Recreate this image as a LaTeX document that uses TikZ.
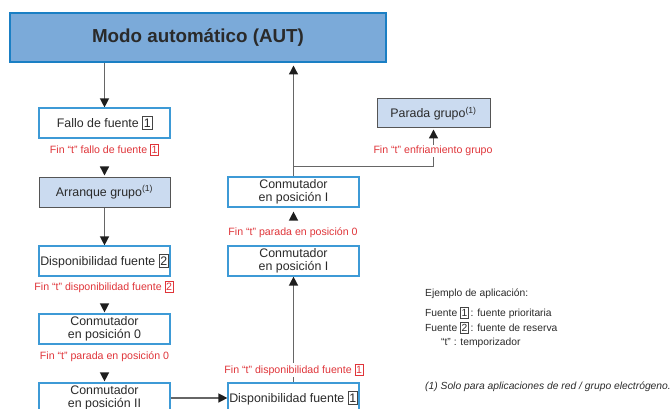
\documentclass[tikz,border=0pt]{standalone}
\usepackage{fontspec}
\setmainfont{Liberation Sans}
\usetikzlibrary{arrows.meta,backgrounds,calc}
\definecolor{lblue}{HTML}{3D9AD6}
\definecolor{tfill}{HTML}{7BAAD9}
\definecolor{tborder}{HTML}{1A7FC4}
\definecolor{gfill}{HTML}{CBDBF0}
\definecolor{gborder}{HTML}{555555}
\definecolor{redl}{HTML}{E0353A}
\definecolor{linec}{HTML}{666666}
\definecolor{tipc}{HTML}{1E1E1E}
\definecolor{txt}{HTML}{2A2A2A}
\definecolor{numframe}{HTML}{444444}
\newcommand{\bnum}[2][numframe]{{\setlength{\fboxsep}{0.9pt}\setlength{\fboxrule}{0.6pt}\fcolorbox{#1}{white}{\rule[-0.1em]{0pt}{0.86em}#2}}}
\begin{document}
\begin{tikzpicture}[x=1pt,y=-1pt,
  box/.style={draw=lblue, line width=1.2pt, fill=white, minimum width=131pt, minimum height=30pt, inner sep=0pt, align=center, text=txt, font=\fontsize{12.4}{12.8}\selectfont},
  gbox/.style={box, draw=gborder, line width=1pt, fill=gfill},
  lbl/.style={text=redl, font=\fontsize{10.6}{12}\selectfont, fill=white, inner sep=1pt},
  conn/.style={draw=linec, line width=1.4pt, -{Triangle[length=9pt,width=9pt,color=tipc]}},
  tiponly/.style={draw=white, line width=1.4pt, -{Triangle[length=9pt,width=9pt,color=tipc]}},
  note/.style={text=txt, font=\fontsize{10.3}{12}\selectfont, anchor=west, inner sep=0pt}]
\useasboundingbox (0,0) rectangle (672,409);
\node[draw=tborder, line width=2pt, fill=tfill, minimum width=376pt, minimum height=49pt, inner sep=0pt, font=\bfseries\fontsize{18.8}{22}\selectfont, text=txt] (aut) at (198,38) {Modo automático (AUT)};
% left column
\node[box] (fallo) at (104.5,123) {Fallo de fuente \bnum{1}};
\node[gbox] (arr) at (104.5,192) {Arranque grupo\textsuperscript{(1)}};
\node[box] (d2) at (104.5,261) {Disponibilidad fuente \bnum{2}};
\node[box] (c0) at (104.5,329) {Conmutador\\en posición 0};
\node[box] (c2) at (104.5,398) {Conmutador\\en posición II};
% right column
\node[box] (d1) at (293.5,398) {Disponibilidad fuente \bnum{1}};
\node[box] (cib) at (293.5,261) {Conmutador\\en posición I};
\node[box] (cia) at (293.5,192) {Conmutador\\en posición I};
\node[gbox, minimum width=113pt, minimum height=29pt] (parada) at (433.5,113.5) {Parada grupo\textsuperscript{(1)}};
% labels
\node[lbl] (l1) at (104.5,150) {Fin “t” fallo de fuente \bnum[redl]{1}};
\node[lbl] (l2) at (104,287) {Fin “t” disponibilidad fuente \bnum[redl]{2}};
\node[lbl] (l3) at (104.5,357) {Fin “t” parada en posición 0};
\node[lbl] (l4) at (294,370) {Fin “t” disponibilidad fuente \bnum[redl]{1}};
\node[lbl] (l5) at (293,233) {Fin “t” parada en posición 0};
\node[lbl] (l6) at (433,151) {Fin “t” enfriamiento grupo};
% connectors
\begin{scope}[on background layer]
\draw[conn] (aut.south -| fallo.north) -- (fallo.north);
\draw[tiponly, shorten >=1pt] (fallo) -- (arr);
\draw[conn] (arr) -- (d2);
\draw[tiponly, shorten >=1pt] (d2) -- (c0);
\draw[tiponly, shorten >=1pt] (c0) -- (c2);
\draw[conn] (c2) -- (d1);
\draw[conn] (d1) -- (cib);
\draw[tiponly, shorten >=4pt] (cib) -- (cia);
\draw[conn, shorten >=2pt] (cia.north) -- (cia.north |- aut.south);
\coordinate (br) at ($(cia.north)+(0,-10)$);
\draw[conn, shorten >=1pt] (br) -| (parada.south);
\end{scope}
% legend
\node[note] (ej) at (425,294) {Ejemplo de aplicación:};
\node[note] (f1) at (425,313) {Fuente \bnum{1}\,: fuente prioritaria};
\node[note] (f2) at (425,328) {Fuente \bnum{2}\,: fuente de reserva};
\node[note] (tt) at (441,343) {“t” : temporizador};
\node[note, font=\itshape\fontsize{10.3}{12}\selectfont] (nota) at (425,387) {(1) Solo para aplicaciones de red / grupo electrógeno.};
\end{tikzpicture}
\end{document}
